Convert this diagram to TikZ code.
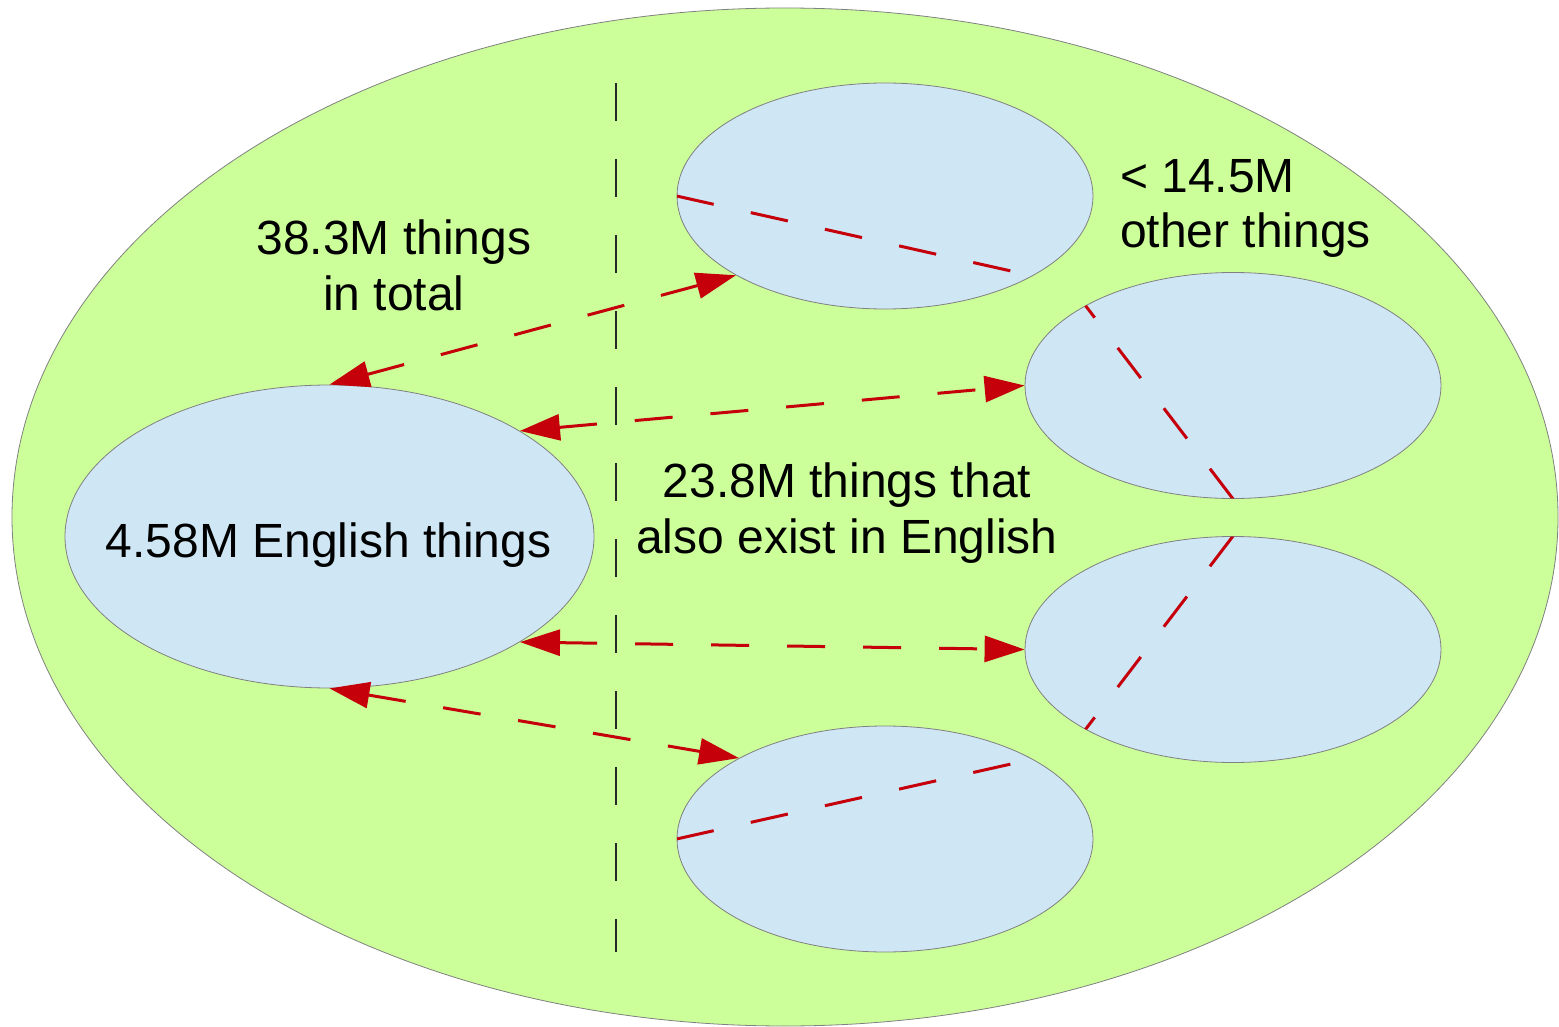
\documentclass[tikz,border=0pt]{standalone}
\usepackage{fontspec}
\setmainfont{Liberation Sans}
\usetikzlibrary{shapes.geometric,arrows.meta}
\definecolor{bggreen}{HTML}{CCFF99}
\definecolor{paleblue}{HTML}{CFE7F5}
\definecolor{darkred}{HTML}{C5000B}
\definecolor{outlinegray}{HTML}{808080}
\begin{document}
\begin{tikzpicture}[x=1pt,y=-1pt,
  world/.style={ellipse, draw=outlinegray, line width=0.8pt, fill=bggreen, inner sep=0pt},
  blob/.style={ellipse, draw=outlinegray, line width=0.8pt, fill=paleblue, inner sep=0pt},
  smallblob/.style={blob, minimum width=416pt, minimum height=226pt},
  lbl/.style={font=\fontsize{48}{55.5}\selectfont, inner sep=0pt, align=center},
  link/.style={draw=darkred, line width=3pt, dash pattern=on 38pt off 38pt,
    {Triangle[length=40pt,width=26pt]}-{Triangle[length=40pt,width=26pt]}},
  cutline/.style={draw=darkred, line width=3pt, dash pattern=on 38pt off 38pt},
  divider/.style={draw=black!85, line width=1.2pt, dash pattern=on 38pt off 38pt}]
\useasboundingbox (0,0) rectangle (1559,1027);

\node[world, minimum width=1546pt, minimum height=1018pt] (all) at (785,517) {};

\node[blob, minimum width=529pt, minimum height=303pt] (eng) at (329.5,536.5) {};
\node[smallblob] (top) at (885,196) {};
\node[smallblob] (ru) at (1233,385.5) {};
\node[smallblob] (rl) at (1233,649.5) {};
\node[smallblob] (bot) at (885,839) {};

\coordinate (d1) at (616,83);
\coordinate (d2) at (616,952);
\draw[divider] (d1) -- (d2);

\coordinate (kneeU) at (1069,284);
\coordinate (kneeD) at (1069,751);
\begin{scope}
  \clip (885,196) ellipse [x radius=208, y radius=113];
  \draw[cutline] (top.west) -- (kneeU);
\end{scope}
\begin{scope}
  \clip (1233,385.5) ellipse [x radius=208, y radius=113];
  \draw[cutline] (ru.south) -- (kneeU);
\end{scope}
\begin{scope}
  \clip (1233,649.5) ellipse [x radius=208, y radius=113];
  \draw[cutline] (rl.north) -- (kneeD);
\end{scope}
\begin{scope}
  \clip (885,839) ellipse [x radius=208, y radius=113];
  \draw[cutline] (bot.west) -- (kneeD);
\end{scope}

\draw[link] (eng.north) -- (top.208.7);
\draw[link] (eng.29.4) -- (ru.west);
\draw[link] (eng.-29.6) -- (rl.west);
\draw[link] (eng.south) -- (bot.151.3);

\node[lbl, anchor=base] (total) at (394,310) {38.3M things\\in total};
\node[lbl, anchor=base west, align=left] (other) at (1120,248) {< 14.5M\\other things};
\node[lbl, anchor=base] (engtxt) at (328.5,557) {4.58M English things};
\node[lbl, anchor=base] (also) at (847,553) {23.8M things that\\also exist in English};
\end{tikzpicture}
\end{document}
